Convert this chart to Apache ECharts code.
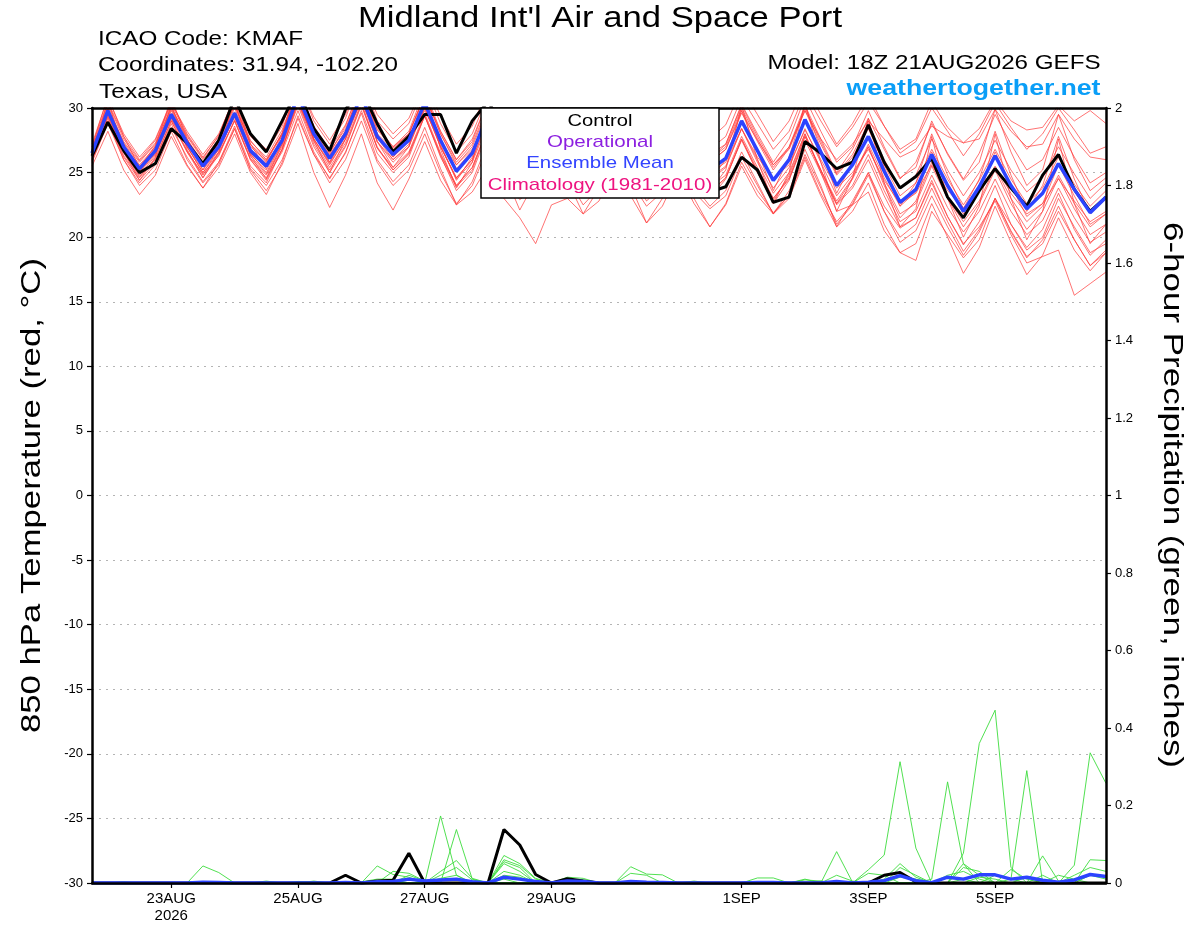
<!DOCTYPE html>
<html><head><meta charset="utf-8">
<script src="https://cdn.jsdelivr.net/npm/echarts@6/dist/echarts.min.js"></script>
<style>html,body{margin:0;padding:0;background:#fff}#c{width:1200px;height:927px}</style>
</head><body><div id="c"></div>
<script>
// ---------- time axis ----------
const startTimeUTC = Date.UTC(2026, 7, 21, 18); // 18Z 21AUG2026
const stepHours = 6;
const nSteps = 65;
const monthNames = ['JAN','FEB','MAR','APR','MAY','JUN','JUL','AUG','SEP','OCT','NOV','DEC'];
const dateTickIndex = [5, 13, 21, 29, 41, 49, 57];
const dateTickLabels = ['23AUG\n2026', '25AUG', '27AUG', '29AUG', '1SEP', '3SEP', '5SEP'];
const tempAxis = { min: -30, max: 30, interval: 5 };
const precipAxis = { min: 0, max: 2, interval: 0.2 };

// ---------- 850 hPa temperature (deg C) ----------
const controlTemp = [
 26.3,28.9,26.7,25.0, 25.7,28.4,27.3,25.7, 27.5,30.8,28.0,26.6, 29.0,31.5,28.4,26.7,
 29.9,31.5,28.8,26.6, 27.8,29.5,29.5,26.5, 29.0,30.5,28.5,26.5, 27.5,29.5,28.0,26.0,
 27.0,29.0,27.0,25.0, 26.0,28.0,25.5,23.5, 23.9,26.2,25.2,22.7, 23.1,27.4,26.5,25.3,
 25.8,28.7,25.8,23.8, 24.7,26.1,23.1,21.5, 23.6,25.3,23.8,22.4, 24.8,26.4,23.7,22.0,
 23.1];
const meanTemp = [
 26.5,29.8,27.0,25.3, 26.7,29.5,27.3,25.5, 27.0,29.6,26.7,25.5, 27.5,31.0,28.0,26.1,
 28.0,31.0,27.8,26.4, 27.5,30.4,27.5,25.1, 26.5,29.5,27.5,25.8, 27.0,29.3,27.5,25.5,
 26.8,29.0,27.2,25.3, 26.5,28.8,26.5,25.2, 26.1,29.0,26.7,24.4, 26.0,29.1,26.6,24.0,
 25.6,27.8,25.1,22.7, 23.7,26.4,24.0,22.0, 23.9,26.3,24.0,22.2, 23.4,25.7,23.7,21.9,
 23.1];
const ensTemp01 = [
 27.0,30.5,27.8,26.0, 27.5,30.4,28.2,26.4, 28.0,30.8,28.0,26.8, 28.8,32.0,29.3,27.5,
 29.5,32.4,29.5,28.0, 29.2,32.0,29.4,27.2, 28.6,31.5,29.5,27.8, 29.0,31.3,29.6,27.7,
 29.0,31.2,29.5,27.8, 29.0,31.0,29.0,27.6, 28.7,31.5,29.5,27.4, 29.0,31.8,29.5,27.2,
 28.8,31.0,28.6,26.5, 27.4,30.0,28.2,26.3, 28.0,30.4,28.5,26.8, 28.0,30.0,28.3,26.5,
 27.0];
const ensTemp02 = [
 25.8,28.8,26.0,24.2, 25.6,28.5,26.2,24.3, 25.8,28.4,25.3,24.0, 26.0,29.2,26.4,24.2,
 26.0,29.0,25.8,24.0, 25.2,28.0,25.0,22.6, 24.0,27.0,24.8,22.9, 24.0,26.5,24.6,22.5,
 23.8,26.2,24.3,22.4, 23.5,25.9,23.5,22.2, 23.2,26.2,24.0,21.8, 23.3,26.4,23.8,21.0,
 22.5,24.8,22.0,19.6, 20.5,23.2,20.8,18.6, 20.4,23.0,20.5,18.5, 19.5,22.0,19.8,17.8,
 19.0];
const ensTemp03 = [
 26.2,29.4,26.5,24.7, 26.0,29.0,26.6,24.6, 26.4,29.0,26.0,24.4, 26.8,30.2,27.0,25.0,
 27.0,30.2,26.9,25.2, 26.5,29.4,26.4,24.0, 25.4,28.4,26.3,24.5, 25.8,28.0,26.2,24.0,
 25.4,27.8,25.8,23.8, 25.0,27.5,25.0,23.5, 24.6,27.6,25.2,23.0, 24.5,27.5,25.0,22.5,
 23.8,26.0,23.2,20.8, 21.5,24.2,21.6,19.5, 20.8,22.8,20.2,18.0, 18.5,19.0,15.5,16.4,
 17.3];
const ensTemp04 = [
 27.2,30.8,28.0,26.2, 27.6,30.5,28.0,26.2, 27.8,30.5,27.5,26.0, 28.0,31.5,28.2,26.3,
 28.2,31.2,27.7,26.0, 27.2,30.0,27.0,24.5, 25.8,28.8,26.5,24.8, 26.0,28.2,26.2,24.0,
 25.2,27.5,25.6,23.5, 24.8,27.0,24.5,23.0, 24.5,27.6,25.0,22.8, 24.8,28.0,25.2,22.6,
 24.5,27.0,24.0,21.5, 22.8,25.8,23.0,20.8, 22.6,25.2,22.6,20.6, 22.0,24.6,22.2,20.2,
 21.0];
const ensTemp05 = [
 25.5,28.2,25.2,23.3, 24.8,27.8,25.5,23.8, 25.8,28.6,25.5,24.2, 26.8,30.5,27.6,25.8,
 27.8,31.0,28.0,26.8, 28.0,31.0,28.2,26.0, 27.6,30.6,28.8,27.0, 28.2,30.5,28.6,26.6,
 27.8,30.0,28.2,26.2, 27.5,29.8,27.5,26.0, 27.0,30.0,27.6,25.4, 27.0,30.2,27.6,25.0,
 26.8,29.2,26.8,24.5, 25.8,28.8,26.5,24.5, 26.5,29.5,27.2,25.2, 26.0,28.5,26.2,24.2,
 25.0];
const ensTemp06 = [
 26.6,29.3,26.9,25.5, 26.8,29.1,27.2,25.8, 27.2,29.3,26.8,25.7, 27.6,30.4,27.8,26.3,
 28.0,30.5,27.8,26.6, 27.6,29.8,27.4,25.6, 26.8,29.0,27.2,26.0, 27.0,28.8,27.2,25.7,
 26.8,28.6,27.0,25.5, 26.4,28.2,26.3,25.0, 25.8,28.4,26.2,24.6, 25.6,28.3,26.0,23.8,
 25.0,26.8,24.4,22.6, 23.4,25.6,23.6,22.3, 23.5,25.5,23.4,21.8, 22.6,24.5,22.8,21.2,
 22.0];
const ensTemp07 = [
 26.0,30.6,26.6,24.4, 26.2,30.3,26.8,24.6, 26.6,30.6,26.3,24.5, 27.2,32.0,27.5,25.0,
 27.6,32.2,27.4,25.4, 27.0,31.5,26.8,23.8, 25.8,30.8,26.8,24.4, 26.4,30.5,27.0,24.2,
 26.0,30.2,26.6,23.8, 25.6,30.0,25.8,23.6, 25.2,30.2,26.0,22.6, 25.0,30.5,25.8,22.0,
 24.6,29.2,24.2,20.8, 22.2,27.8,23.0,20.0, 22.4,28.0,23.0,19.8, 22.0,27.6,22.6,19.5,
 21.0];
const ensTemp08 = [
 26.9,29.9,27.4,25.8, 27.2,30.0,27.8,26.0, 27.6,30.2,27.4,26.2, 28.3,31.6,28.6,26.8,
 28.7,31.7,28.4,27.0, 28.0,31.0,28.0,25.8, 27.2,30.2,28.2,26.5, 27.8,30.2,28.4,26.4,
 27.8,30.2,28.4,26.6, 27.8,30.4,28.2,26.8, 27.8,30.8,28.8,26.8, 28.2,31.2,29.0,27.0,
 28.5,30.5,28.6,26.8, 27.6,30.5,28.5,27.3, 28.4,30.6,29.0,28.3, 28.5,30.2,29.0,29.8,
 28.8];
const ensTemp09 = [
 26.3,29.6,26.6,24.8, 26.3,29.2,26.7,24.8, 26.5,29.0,26.0,24.6, 26.6,29.8,26.6,24.5,
 26.6,29.6,26.0,24.3, 25.6,28.5,25.3,22.5, 24.3,27.4,25.0,22.1, 24.4,26.8,24.4,21.8,
 23.8,26.4,24.0,21.1, 23.0,25.6,23.0,20.8, 22.5,25.5,23.2,21.8, 23.0,26.0,23.2,20.8,
 22.0,24.2,21.0,18.8, 19.5,22.6,20.0,17.2, 19.2,22.4,19.6,17.1, 18.6,21.5,19.0,17.4,
 18.8];
const ensTemp10 = [
 26.7,30.2,27.3,25.6, 27.0,29.9,27.6,25.8, 27.3,30.0,27.0,25.9, 27.9,31.4,28.4,26.6,
 28.4,31.5,28.3,26.9, 28.0,31.0,28.0,25.6, 27.0,30.0,28.0,26.3, 27.5,29.9,28.0,26.0,
 27.3,29.6,27.7,25.9, 27.0,29.4,27.0,25.8, 26.8,29.8,27.4,25.2, 26.9,30.0,27.4,24.9,
 26.4,28.8,26.0,23.8, 24.8,27.6,25.2,23.2, 25.0,27.5,25.2,23.5, 24.6,27.0,24.9,23.0,
 24.2];
const ensTemp11 = [
 26.1,29.2,26.3,24.6, 26.1,29.0,26.6,24.9, 26.3,29.1,26.1,24.8, 26.8,30.4,27.2,25.2,
 27.1,30.3,26.9,25.4, 26.6,29.6,26.5,24.0, 25.4,28.6,26.4,24.6, 25.9,28.3,26.4,24.4,
 25.6,28.0,26.0,24.0, 25.2,27.7,25.3,23.9, 24.8,27.8,25.4,23.0, 24.6,27.8,25.2,22.6,
 24.0,26.4,23.6,21.2, 22.0,24.8,22.3,20.4, 22.0,24.5,22.0,20.2, 21.3,23.8,21.5,19.6,
 20.4];
const ensTemp12 = [
 26.8,30.4,27.6,25.9, 27.3,30.3,27.9,26.1, 27.9,30.9,27.8,26.6, 28.6,32.2,29.0,27.2,
 29.2,32.6,29.0,27.6, 28.8,31.8,28.8,26.6, 28.0,31.0,29.0,27.3, 28.6,30.8,29.0,27.0,
 28.2,30.5,28.6,26.8, 27.8,30.2,27.8,26.4, 27.2,30.2,27.8,25.6, 26.8,29.8,27.2,24.8,
 26.2,28.4,25.6,23.2, 24.2,26.8,24.5,22.5, 24.4,26.8,24.5,22.6, 23.8,26.2,24.1,22.4,
 23.6];
const ensTemp13 = [
 25.9,29.0,26.0,24.0, 25.2,28.2,25.6,23.8, 25.4,28.0,25.0,23.3, 25.8,29.4,26.4,24.6,
 26.5,29.8,26.5,25.0, 26.2,29.4,26.2,23.9, 25.2,28.5,26.0,24.2, 25.4,28.0,25.8,23.8,
 25.2,27.6,25.6,23.6, 25.0,27.4,25.0,23.4, 24.6,27.5,25.0,22.6, 24.4,27.8,25.2,22.8,
 24.6,27.2,24.6,22.4, 23.5,26.6,24.0,21.8, 23.6,26.6,24.0,21.6, 22.6,25.6,23.2,21.0,
 21.8];
const ensTemp14 = [
 26.0,29.0,26.2,24.4, 25.8,28.8,26.0,24.2, 25.6,28.4,25.2,23.6, 25.6,28.8,25.0,22.3,
 24.8,28.0,24.2,22.1, 24.5,27.4,24.4,22.5, 23.5,25.5,23.0,21.5, 19.5,22.5,23.0,21.8,
 22.8,25.4,23.2,21.1, 22.4,25.0,22.6,20.8, 22.6,25.8,23.6,21.9, 23.2,26.2,23.4,21.2,
 22.6,25.0,22.4,20.7, 21.5,24.4,21.6,19.4, 21.2,24.0,21.0,19.2, 20.6,23.4,20.6,18.6,
 19.8];
const ensTemp15 = [
 26.4,29.9,27.1,25.2, 26.5,29.6,27.0,25.0, 26.8,29.7,26.5,25.0, 27.2,30.8,27.6,25.6,
 27.6,30.8,27.4,25.8, 27.0,30.2,27.0,24.6, 26.0,29.2,27.0,25.2, 26.5,28.8,26.8,24.8,
 26.2,28.5,26.5,24.6, 25.8,28.2,25.8,24.4, 25.4,28.4,25.8,23.4, 25.0,28.0,25.0,22.0,
 22.5,23.5,20.5,18.8, 18.2,22.0,20.2,18.4, 19.8,23.0,21.0,19.0, 20.0,23.0,20.8,18.8,
 19.5];
const ensTemp16 = [
 26.5,29.6,26.8,25.0, 26.9,29.8,27.4,25.6, 27.4,30.2,27.2,26.0, 28.0,31.2,28.2,26.4,
 28.2,31.0,27.9,26.2, 27.6,30.4,27.6,25.3, 26.7,29.6,27.7,26.0, 27.2,29.4,27.6,25.8,
 27.0,29.3,27.5,25.7, 26.9,29.2,26.9,25.8, 26.8,29.6,27.5,25.6, 27.0,29.8,27.6,26.0,
 27.2,29.0,27.6,26.2, 26.8,28.6,27.8,27.3, 27.6,29.9,28.2,27.0, 27.2,29.5,27.6,26.2,
 26.0];
const ensTemp17 = [
 26.4,29.5,26.7,25.0, 26.4,29.3,27.0,25.2, 26.8,29.3,26.4,25.2, 27.2,30.6,27.6,25.7,
 27.6,30.6,27.4,26.0, 27.0,30.0,27.0,24.6, 26.0,29.0,27.0,25.2, 26.5,28.8,27.0,25.0,
 26.2,28.4,26.6,24.8, 25.9,28.2,25.9,24.6, 25.5,28.4,26.0,23.8, 25.4,28.4,25.8,23.2,
 24.8,27.0,24.2,21.8, 22.6,25.5,23.0,21.2, 22.8,25.4,23.0,21.2, 22.4,24.8,22.6,20.8,
 21.8];
const ensTemp18 = [
 27.0,30.9,27.8,25.4, 27.0,30.8,27.6,25.2, 27.3,31.0,27.2,25.3, 27.9,32.0,28.2,25.8,
 28.2,31.8,28.0,26.2, 27.4,30.8,27.2,24.4, 26.2,30.0,27.2,24.8, 26.8,29.8,27.2,24.6,
 26.5,29.6,26.9,24.5, 26.2,29.5,26.4,24.4, 26.0,29.8,26.6,23.6, 26.2,30.2,26.8,23.4,
 25.8,29.0,25.4,22.4, 24.2,28.0,24.8,22.2, 24.5,28.2,24.8,22.0, 24.0,27.8,24.5,21.8,
 23.0];
const ensTemp19 = [
 26.6,29.7,26.9,25.1, 26.5,29.4,27.0,25.0, 26.6,29.4,26.3,24.9, 27.0,30.6,27.4,25.4,
 27.3,30.4,27.0,25.2, 26.4,29.4,26.3,23.6, 25.0,28.2,25.8,23.8, 25.2,27.6,25.6,23.4,
 24.6,27.0,25.0,22.8, 24.0,26.5,24.0,22.4, 23.6,26.6,24.2,21.8, 23.6,26.8,24.0,20.8,
 22.8,25.0,22.0,20.0, 21.0,23.8,21.2,18.9, 20.6,23.0,20.4,18.4, 19.8,22.4,19.8,17.8,
 18.8];
const ensTemp20 = [
 26.8,30.0,27.2,25.4, 27.1,30.1,27.6,25.5, 27.5,30.4,27.2,25.8, 28.1,31.8,28.6,26.5,
 28.6,32.0,28.6,27.0, 28.2,31.4,28.2,26.0, 27.4,30.6,28.4,26.6, 27.9,30.4,28.3,26.3,
 27.6,30.0,28.0,26.2, 27.4,29.8,27.4,26.0, 27.2,30.3,28.0,25.8, 27.6,30.8,28.2,25.8,
 27.0,29.8,27.0,24.6, 25.4,29.0,26.4,24.4, 25.8,29.9,26.6,24.0, 25.2,29.5,26.0,23.6,
 24.6];

// ---------- 6-hour precipitation (inches) ----------
const controlPrecip = [
 0,0,0,0, 0,0,0,0, 0,0,0,0, 0,0,0,0,
 0.02,0,0.005,0.007, 0.077,0,0,0, 0,0,0.138,0.098, 0.022,0,0.011,0.005,
 0,0,0,0, 0,0,0,0, 0,0,0,0, 0,0,0,0,
 0,0,0.02,0.027, 0.003,0,0,0, 0,0,0,0, 0,0,0,0,
 0];
const meanPrecip = [
 0,0,0,0, 0,0,0,0.002, 0.001,0,0,0, 0,0,0,0,
 0.001,0,0.003,0.004, 0.01,0.005,0.008,0.01, 0.003,0,0.015,0.01, 0.004,0,0.005,0.004,
 0,0,0.004,0.002, 0.001,0,0,0, 0,0,0.001,0.001, 0,0,0,0.004,
 0,0.002,0.006,0.019, 0.006,0.001,0.015,0.01, 0.021,0.021,0.01,0.015, 0.007,0.002,0.008,0.022,
 0.017];
const ensPrecip01 = [
 0,0,0,0, 0,0,0,0.044, 0.027,0,0,0, 0,0,0,0,
 0,0,0,0, 0,0,0,0, 0,0,0,0, 0,0,0,0,
 0,0,0,0, 0,0,0,0, 0,0,0,0, 0,0,0,0,
 0,0,0,0, 0,0.01,0.261,0.05, 0,0,0,0, 0,0,0,0,
 0];
const ensPrecip02 = [
 0,0,0,0, 0,0,0,0, 0,0,0,0, 0,0,0,0,
 0,0,0.044,0.022, 0.015,0,0,0, 0,0,0,0, 0,0,0,0,
 0,0,0,0, 0,0,0,0, 0,0,0,0, 0,0,0,0,
 0,0.034,0.072,0.313, 0.09,0,0,0, 0,0,0,0, 0,0,0,0,
 0];
const ensPrecip03 = [
 0,0,0,0, 0,0,0,0, 0,0,0,0, 0,0,0,0,
 0,0,0,0, 0,0,0.173,0.02, 0,0,0.01,0, 0,0,0,0,
 0,0,0,0, 0,0,0,0, 0,0,0,0, 0,0,0,0,
 0,0,0,0, 0,0,0,0.077, 0.36,0.446,0.04,0, 0,0,0,0,
 0];
const ensPrecip04 = [
 0,0,0,0, 0,0,0,0, 0,0,0,0, 0,0,0,0,
 0,0,0,0, 0,0,0,0.138, 0.01,0,0,0, 0,0,0,0,
 0,0,0,0, 0,0,0,0, 0,0,0,0, 0,0,0.005,0,
 0,0,0,0, 0,0,0,0, 0,0,0.01,0.29, 0,0,0,0,
 0];
const ensPrecip05 = [
 0,0,0,0, 0,0,0,0, 0,0,0,0, 0,0,0,0,
 0,0,0,0, 0,0,0,0, 0,0,0.071,0.05, 0.012,0,0,0,
 0,0,0,0, 0,0,0,0, 0,0,0,0, 0,0,0,0,
 0,0,0,0, 0,0,0,0, 0,0,0,0, 0,0,0.046,0.336,
 0.257];
const ensPrecip06 = [
 0,0,0,0, 0,0,0,0, 0,0,0,0, 0,0,0,0,
 0,0,0,0.03, 0.025,0.005,0,0, 0,0,0.06,0.045, 0.01,0,0,0,
 0,0,0,0, 0,0,0,0, 0,0,0,0, 0,0,0,0.081,
 0.002,0,0,0, 0,0,0,0, 0,0,0,0, 0,0,0,0,
 0];
const ensPrecip07 = [
 0,0,0,0, 0,0,0,0, 0,0,0,0, 0,0,0,0,
 0,0,0,0, 0,0,0,0, 0,0,0.055,0.04, 0,0,0.015,0.012,
 0,0,0.042,0.023, 0.021,0,0,0, 0,0,0,0, 0,0,0,0,
 0,0,0,0, 0,0,0,0, 0,0,0,0, 0,0,0,0,
 0];
const ensPrecip08 = [
 0,0,0,0, 0,0,0,0, 0,0,0,0, 0,0,0,0,
 0,0,0,0, 0,0,0.03,0.058, 0.012,0,0,0, 0,0,0,0,
 0,0,0,0, 0,0,0,0, 0,0,0.013,0.013, 0,0,0,0,
 0,0.025,0.02,0, 0,0,0,0.05, 0.02,0,0,0, 0,0,0,0,
 0];
const ensPrecip09 = [
 0,0,0,0, 0,0,0,0, 0,0,0,0, 0,0,0,0,
 0,0,0,0, 0.02,0.005,0,0, 0,0,0.05,0.03, 0,0,0,0,
 0,0,0.025,0.02, 0,0,0,0, 0,0,0,0, 0,0,0,0,
 0,0,0,0, 0,0,0,0, 0,0,0,0, 0.07,0.005,0,0.06,
 0.058];
const ensPrecip10 = [
 0,0,0,0, 0,0,0,0, 0,0,0,0.005, 0,0,0.005,0,
 0,0,0,0, 0,0,0.02,0.04, 0.008,0,0,0, 0,0,0,0,
 0,0,0,0, 0,0,0,0, 0,0,0,0, 0,0.01,0,0,
 0,0,0,0.04, 0.02,0,0,0, 0,0,0.035,0.01, 0,0,0,0,
 0];
const ensPrecip11 = [
 0,0,0.003,0, 0,0,0,0, 0,0,0,0, 0,0,0,0,
 0,0,0,0, 0,0,0,0, 0,0,0.03,0.02, 0,0,0,0,
 0,0,0,0, 0,0,0,0, 0,0,0,0, 0,0,0,0,
 0,0,0.01,0.05, 0.015,0,0,0.04, 0.03,0,0,0, 0,0,0.02,0.04,
 0.03];
const ensPrecip12 = [
 0,0,0,0, 0,0,0,0, 0,0,0,0, 0,0,0,0,
 0,0.003,0.01,0.01, 0,0,0.012,0.02, 0,0,0,0, 0,0,0,0,
 0,0,0,0, 0,0,0.005,0, 0,0,0,0, 0,0,0,0,
 0,0,0,0, 0,0,0,0, 0.015,0.01,0,0, 0,0.02,0.01,0,
 0];
const ensPrecip13 = [
 0,0,0,0, 0,0,0,0, 0,0,0,0, 0,0,0,0,
 0,0,0,0, 0,0,0,0, 0,0,0.02,0.015, 0,0,0,0,
 0,0,0,0, 0,0,0,0, 0,0,0,0, 0,0,0,0,
 0,0,0,0, 0,0,0.02,0.03, 0.01,0,0,0, 0,0,0,0,
 0];
const ensPrecip14 = [
 0,0,0,0, 0,0,0,0, 0,0,0,0, 0,0,0,0,
 0,0,0,0, 0,0,0,0, 0,0,0,0, 0,0,0.01,0.008,
 0,0,0,0, 0,0,0,0, 0,0,0,0, 0,0,0,0.02,
 0.005,0,0,0, 0,0,0,0, 0,0,0,0, 0.02,0,0,0,
 0];
const ensPrecip15 = [
 0,0,0,0, 0,0,0,0, 0,0,0,0, 0,0,0,0,
 0,0,0,0, 0,0,0,0, 0,0,0,0, 0,0,0,0,
 0,0,0,0, 0,0,0,0, 0,0,0,0, 0,0,0,0,
 0,0,0,0.015, 0.01,0,0,0, 0,0.02,0.01,0, 0,0,0,0,
 0];
const ensPrecip16 = [
 0,0,0,0, 0,0,0,0, 0,0,0,0, 0,0,0,0,
 0,0,0,0, 0,0,0,0, 0,0,0,0, 0,0,0,0,
 0,0,0,0, 0,0,0,0, 0,0,0,0, 0,0,0,0,
 0,0,0,0, 0,0,0,0, 0,0,0,0, 0,0,0,0.02,
 0.01];
const ensPrecip17 = [
 0,0,0,0, 0,0,0,0, 0,0,0,0, 0,0,0,0,
 0,0,0,0.005, 0.01,0,0,0, 0,0,0,0, 0,0,0,0,
 0,0,0,0, 0,0,0,0, 0,0,0,0, 0,0,0,0,
 0,0,0,0, 0,0,0,0, 0,0,0,0, 0,0,0,0,
 0];
const ensPrecip18 = [
 0,0,0,0, 0,0,0,0, 0,0,0,0, 0,0,0,0,
 0,0,0,0, 0,0,0,0, 0,0,0,0, 0,0,0,0,
 0,0,0,0, 0,0,0,0, 0,0,0,0, 0,0.008,0.005,0,
 0,0,0,0, 0,0,0,0, 0,0,0,0, 0,0,0,0,
 0];
const ensPrecip19 = [
 0,0,0,0, 0,0,0,0, 0,0,0,0, 0,0,0,0,
 0,0,0,0, 0,0,0,0, 0,0,0,0, 0,0,0,0,
 0,0,0,0, 0,0,0,0, 0,0,0,0, 0,0,0,0,
 0,0,0,0, 0,0,0,0.01, 0,0,0,0.015, 0,0,0,0,
 0];
const ensPrecip20 = [
 0,0,0,0, 0,0,0,0, 0,0,0,0, 0,0.004,0.003,0,
 0,0,0,0, 0,0,0,0, 0,0,0,0, 0,0,0,0,
 0,0,0,0, 0,0,0,0, 0,0,0,0, 0,0,0,0,
 0,0,0,0, 0,0,0,0, 0,0,0,0, 0,0,0,0,
 0];

const ensTemps = [ensTemp01,ensTemp02,ensTemp03,ensTemp04,ensTemp05,ensTemp06,ensTemp07,ensTemp08,ensTemp09,ensTemp10,
                  ensTemp11,ensTemp12,ensTemp13,ensTemp14,ensTemp15,ensTemp16,ensTemp17,ensTemp18,ensTemp19,ensTemp20];
const ensPrecips = [ensPrecip01,ensPrecip02,ensPrecip03,ensPrecip04,ensPrecip05,ensPrecip06,ensPrecip07,ensPrecip08,ensPrecip09,ensPrecip10,
                    ensPrecip11,ensPrecip12,ensPrecip13,ensPrecip14,ensPrecip15,ensPrecip16,ensPrecip17,ensPrecip18,ensPrecip19,ensPrecip20];

// sanity check
[controlTemp, meanTemp, controlPrecip, meanPrecip, ...ensTemps, ...ensPrecips].forEach((a, k) => {
  if (a.length !== nSteps) throw new Error('array ' + k + ' has length ' + a.length);
});

// ---------- categories ----------
const cats = [];
for (let i = 0; i < nSteps; i++) {
  const d = new Date(startTimeUTC + i * stepHours * 3600e3);
  cats.push(String(d.getUTCHours()).padStart(2, '0') + 'Z' + d.getUTCDate() + monthNames[d.getUTCMonth()] + d.getUTCFullYear());
}
const tickSet = new Set(dateTickIndex);
const labelMap = {};
dateTickIndex.forEach((ix, k) => { labelMap[ix] = dateTickLabels[k]; });

// ---------- styles ----------
const FONT = "'Liberation Sans', Arial, Helvetica, sans-serif";
const RED = 'rgba(255,60,60,0.8)';
const GREEN = '#3ddc3d';
const BLUE = '#2c43ff';
const mctx = document.createElement('canvas').getContext('2d');
function txt(text, x, y, size, align, target, o = {}) {
  const weight = o.weight || 'normal';
  mctx.font = weight + ' ' + size + 'px ' + FONT;
  const w = mctx.measureText(text).width;
  const s = target ? target / w : 1;
  return {
    type: 'text', x: x, y: y, rotation: o.rotation || 0, scaleX: s, z: 200, silent: true,
    style: { text: text, fill: o.color || '#000', fontSize: size, fontFamily: FONT, fontWeight: weight,
             textAlign: align, textVerticalAlign: 'middle', align: align, verticalAlign: 'middle' }
  };
}

const series = [];
ensTemps.forEach((arr) => series.push({
  type: 'line', data: arr, xAxisIndex: 0, yAxisIndex: 0, symbol: 'none', silent: true,
  lineStyle: { color: RED, width: 0.9 }, emphasis: { disabled: true }, z: 2
}));
ensPrecips.forEach((arr) => series.push({
  type: 'line', data: arr, xAxisIndex: 0, yAxisIndex: 1, symbol: 'none', silent: true,
  lineStyle: { color: GREEN, width: 0.9 }, emphasis: { disabled: true }, z: 2
}));
series.push({ type: 'line', data: controlTemp, xAxisIndex: 0, yAxisIndex: 0, symbol: 'none', silent: true,
  lineStyle: { color: '#000', width: 3 }, emphasis: { disabled: true }, z: 3 });
series.push({ type: 'line', data: meanTemp, xAxisIndex: 0, yAxisIndex: 0, symbol: 'none', silent: true,
  lineStyle: { color: BLUE, width: 3.5 }, emphasis: { disabled: true }, z: 3 });
series.push({ type: 'line', data: controlPrecip, xAxisIndex: 0, yAxisIndex: 1, symbol: 'none', silent: true,
  lineStyle: { color: '#000', width: 3 }, emphasis: { disabled: true }, z: 3 });
series.push({ type: 'line', data: meanPrecip, xAxisIndex: 0, yAxisIndex: 1, symbol: 'none', silent: true,
  lineStyle: { color: BLUE, width: 3.5 }, emphasis: { disabled: true }, z: 3 });

const axisLineStyle = { color: '#000', width: 2.5 };
const option = {
  animation: false,
  backgroundColor: '#fff',
  grid: { left: 92, right: 94, top: 108, bottom: 44, outerBoundsMode: 'none', containLabel: false },
  xAxis: [
    { type: 'category', data: cats, boundaryGap: false, position: 'bottom', z: 5,
      axisLine: { onZero: false, lineStyle: axisLineStyle },
      axisTick: { show: true, interval: (i) => tickSet.has(i), length: 5, lineStyle: { color: '#000', width: 1.2 } },
      axisLabel: { interval: (i) => tickSet.has(i), formatter: (v, i) => labelMap[i] || '', color: '#000',
                   fontSize: 15, lineHeight: 17, margin: 7, fontFamily: FONT },
      splitLine: { show: false } },
    { type: 'category', data: cats, boundaryGap: false, position: 'top', z: 5,
      axisLine: { onZero: false, lineStyle: axisLineStyle },
      axisTick: { show: false }, axisLabel: { show: false }, splitLine: { show: false } }
  ],
  yAxis: [
    { type: 'value', min: tempAxis.min, max: tempAxis.max, interval: tempAxis.interval, position: 'left', z: 5,
      axisLine: { show: true, lineStyle: axisLineStyle },
      axisTick: { show: true, length: 5, lineStyle: { color: '#000', width: 1.2 } },
      axisLabel: { color: '#000', fontSize: 13, fontFamily: FONT, margin: 9 },
      splitLine: { show: false } },
    { type: 'value', min: precipAxis.min, max: precipAxis.max, interval: precipAxis.interval, position: 'right', z: 5,
      axisLine: { show: true, lineStyle: axisLineStyle },
      axisTick: { show: true, length: 5, lineStyle: { color: '#000', width: 1.2 } },
      axisLabel: { color: '#000', fontSize: 13, fontFamily: FONT, margin: 9,
                   formatter: (v) => String(Math.round(v * 10) / 10) },
      splitLine: { show: false } },
    { type: 'value', min: tempAxis.min, max: tempAxis.max, interval: tempAxis.interval, position: 'left', z: 0,
      axisLine: { show: false }, axisTick: { show: false }, axisLabel: { show: false },
      splitLine: { show: true, lineStyle: { color: '#b4b4b4', type: [2, 5], width: 1 } } }
  ],
  series: series,
  graphic: { elements: [
    txt("Midland Int'l Air and Space Port", 600, 18.8, 29, 'center', 484),
    txt('ICAO Code: KMAF', 98, 39.2, 21, 'left', 205),
    txt('Coordinates: 31.94, -102.20', 98, 65.2, 21, 'left', 300),
    txt('Texas, USA', 99, 92.5, 21, 'left', 128),
    txt('Model: 18Z 21AUG2026 GEFS', 1100.5, 63.7, 20, 'right', 333),
    txt('weathertogether.net', 1100.5, 88.8, 22, 'right', 254, { weight: 'bold', color: '#0a9ef7' }),
    txt('850 hPa Temperature (red, \u00B0C)', 32, 495.5, 28, 'center', 475, { rotation: Math.PI / 2 }),
    txt('6-hour Precipitation (green, inches)', 1172, 495, 28, 'center', 546, { rotation: -Math.PI / 2 }),
    { type: 'rect', z: 150, silent: true, shape: { x: 481, y: 108, width: 238, height: 90 },
      style: { fill: '#fff', stroke: '#000', lineWidth: 1.5 } },
    txt('Control', 600, 121.2, 17, 'center', 65),
    txt('Operational', 600, 142, 17, 'center', 106, { color: '#8c1fe0' }),
    txt('Ensemble Mean', 600, 163.8, 17, 'center', 147.6, { color: '#3344ff' }),
    txt('Climatology (1981-2010)', 600, 185.3, 17, 'center', 224.4, { color: '#ee1480' })
  ] }
};

const chart = echarts.init(document.getElementById('c'), null, { renderer: 'canvas' });
chart.setOption(option);
</script>
</body></html>
